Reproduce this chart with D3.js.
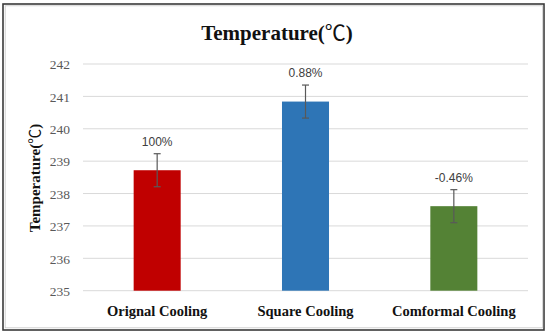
<!DOCTYPE html>
<html>
<head>
<meta charset="utf-8">
<script src="https://cdn.jsdelivr.net/npm/d3@7"></script>
<style>
  html, body { margin: 0; padding: 0; background: #fff; }
  svg { display: block; }
</style>
</head>
<body>
<svg id="chart" width="550" height="335"></svg>
<script>
const categories = ["Orignal Cooling", "Square Cooling", "Comformal Cooling"];
const values = [238.72, 240.84, 237.61];
const errors = [0.51, 0.51, 0.51];
const labels = ["100%", "0.88%", "-0.46%"];
const colors = ["#C00000", "#2E75B6", "#548235"];
const yTicks = [235, 236, 237, 238, 239, 240, 241, 242];
const titleParts = ["Temperature(", "℃", ")"];

const svg = d3.select("#chart");
const plot = { left: 83, right: 528, top: 64, bottom: 290.7 };
const serif = "'Liberation Serif', 'DejaVu Serif', serif";
const cjk = "'Noto Sans CJK SC', 'Noto Sans CJK JP', sans-serif";

// frame
svg.append("rect").attr("x", 3).attr("y", 4).attr("width", 541).attr("height", 326)
  .attr("fill", "#fff").attr("stroke", "#3a3a3a").attr("stroke-width", 1.6);
svg.append("rect").attr("x", 5.2).attr("y", 5.8).attr("width", 537.5).attr("height", 322)
  .attr("fill", "none").attr("stroke", "#c8c8c8").attr("stroke-width", 0.8);

const x = d3.scaleBand().domain(categories).range([plot.left, plot.right]).padding(0);
const y = d3.scaleLinear().domain([235, 242]).range([plot.bottom, plot.top]);
const barW = x.bandwidth() * 0.317;

// gridlines
svg.append("g").selectAll("line").data(yTicks).join("line")
  .attr("x1", plot.left).attr("x2", plot.right)
  .attr("y1", d => y(d)).attr("y2", d => y(d))
  .attr("stroke", "#d9d9d9").attr("stroke-width", 1);

// y axis labels
const yAxis = d3.axisLeft(y).tickValues(yTicks).tickSize(0).tickPadding(0).tickFormat(d3.format("d"));
const gy = svg.append("g").attr("transform", `translate(${plot.left - 13},0)`).call(yAxis)
  .attr("font-family", null).attr("font-size", null);
gy.select(".domain").remove();
gy.selectAll("text").style("font-family", serif).style("font-size", "13.5px")
  .attr("fill", "#595959").attr("dy", "0.35em");

// bars
const cx = d => x(d) + x.bandwidth() / 2;
svg.append("g").selectAll("rect").data(categories).join("rect")
  .attr("x", d => cx(d) - barW / 2)
  .attr("y", (d, i) => y(values[i]))
  .attr("width", barW)
  .attr("height", (d, i) => y(235) - y(values[i]))
  .attr("fill", (d, i) => colors[i]);

// error bars
const eg = svg.append("g").attr("stroke", "#595959").attr("stroke-width", 1.2);
categories.forEach((c, i) => {
  const xc = cx(c), t = y(values[i] + errors[i]), b = y(values[i] - errors[i]);
  eg.append("line").attr("x1", xc).attr("x2", xc).attr("y1", t).attr("y2", b);
  eg.append("line").attr("x1", xc - 3.5).attr("x2", xc + 3.5).attr("y1", t).attr("y2", t);
  eg.append("line").attr("x1", xc - 3.5).attr("x2", xc + 3.5).attr("y1", b).attr("y2", b);
});

// data labels
svg.append("g").selectAll("text").data(categories).join("text")
  .attr("x", d => cx(d))
  .attr("y", (d, i) => y(values[i] + errors[i]) - 8)
  .attr("text-anchor", "middle")
  .style("font-family", "'Liberation Sans', Arial, sans-serif")
  .style("font-size", "12px").attr("fill", "#404040")
  .text((d, i) => labels[i]);

// x labels
const xAxis = d3.axisBottom(x).tickSize(0).tickPadding(0);
const gx = svg.append("g").attr("transform", `translate(0,${plot.bottom})`).call(xAxis)
  .attr("font-family", null).attr("font-size", null);
gx.select(".domain").remove();
gx.selectAll("text").style("font-family", serif).style("font-weight", "bold")
  .style("font-size", "14.5px").attr("fill", "#111").attr("dy", 0).attr("y", 25.5);

function titleText(sel) {
  sel.selectAll("tspan").data(titleParts).join("tspan")
    .style("font-family", (d, i) => i === 1 ? cjk : serif)
    .style("font-weight", (d, i) => i === 1 ? "normal" : "bold")
    .text(d => d);
}

// title
svg.append("text").attr("x", 277).attr("y", 40).attr("text-anchor", "middle")
  .style("font-size", "21px").attr("fill", "#111").call(titleText);

// y axis title
svg.append("text").attr("transform", `translate(40,178) rotate(-90)`)
  .attr("text-anchor", "middle")
  .style("font-size", "15px").attr("fill", "#111").call(titleText);
</script>
</body>
</html>
